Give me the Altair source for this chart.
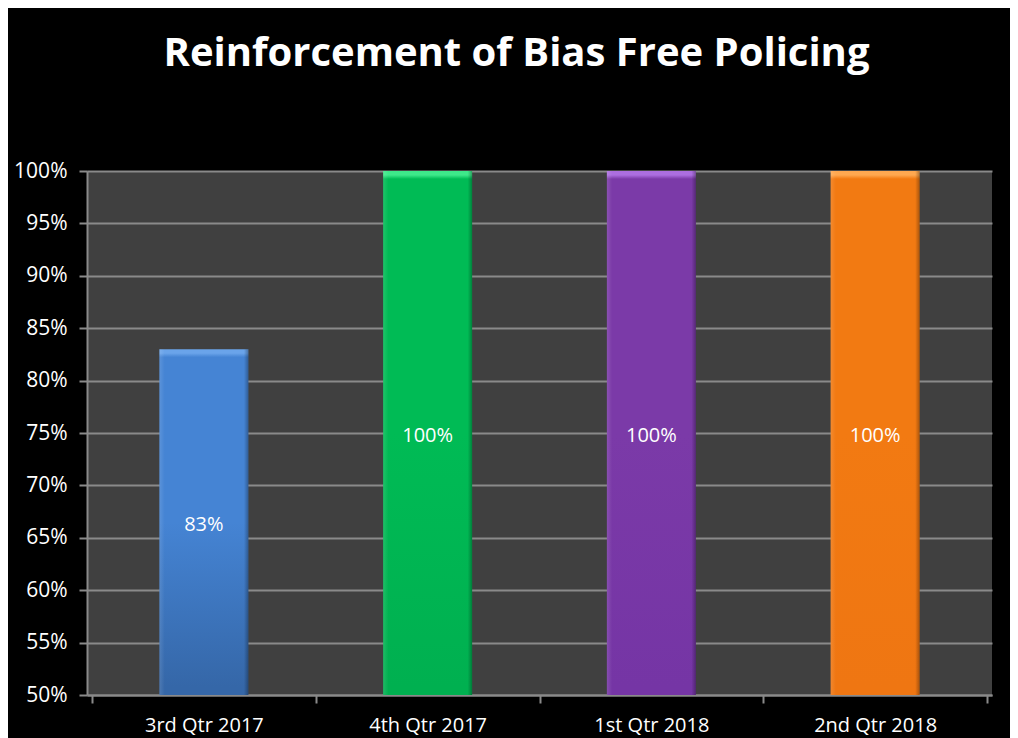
import json
import altair as alt
import pandas as pd

categories = ["3rd Qtr 2017", "4th Qtr 2017", "1st Qtr 2018", "2nd Qtr 2018"]
values = [0.83, 1.00, 1.00, 1.00]
labels = ["83%", "100%", "100%", "100%"]
tops = ["#6aa4ea", "#3ee88a", "#ac6ee0", "#ffa850"]
bases = ["#4584d4", "#00bb55", "#7b3aa8", "#f27a12"]
bottoms = ["#3567a8", "#00b050", "#7535a5", "#ef7612"]
title_text = "Reinforcement of Bias Free Policing"

PLOT_W, PLOT_H = 905, 524
FONT = "Open Sans"
GRID = "#8a8a8a"

df = pd.DataFrame({
    "cat": categories,
    "pos": [i + 0.5 for i in range(len(categories))],
    "value": values,
    "label": labels,
})

label_expr = "datum.value % 1 == 0 ? '' : " + json.dumps(categories) + "[floor(datum.value)]"

x_enc = alt.X(
    "pos:Q",
    scale=alt.Scale(domain=[0, len(categories)], nice=False, zero=False),
    axis=alt.Axis(
        values=[i * 0.5 for i in range(2 * len(categories) + 1)],
        labelExpr=label_expr,
        title=None, grid=False,
        domainColor=GRID, domainWidth=2,
        tickColor=GRID, tickWidth=2, tickSize=8,
        tickOpacity={"condition": {"test": "datum.value % 1 != 0", "value": 0}, "value": 1},
        labelColor="white", labelFont=FONT, labelFontSize=20,
        labelPadding=12, labelBaseline="top", labelFlush=False,
        labelOverlap=False,
    ),
)
y_enc = alt.Y(
    "value:Q",
    scale=alt.Scale(domain=[0.5, 1.0], nice=False, zero=False),
    axis=alt.Axis(
        values=[0.5 + 0.05 * i for i in range(11)],
        format=".0%", title=None,
        grid=True, gridColor=GRID, gridWidth=2,
        domainColor=GRID, domainWidth=2,
        tickColor=GRID, tickWidth=2, tickSize=8,
        labelColor="white", labelFont=FONT, labelFontSize=21,
        labelPadding=12, labelFlush=False,
    ),
)

base = alt.Chart(df)
layers = []
for i, c in enumerate(categories):
    hpx = (values[i] - 0.5) / 0.5 * PLOT_H
    bev = 8.0 / hpx
    grad = alt.Gradient(
        gradient="linear", x1=0, y1=0, x2=0, y2=1,
        stops=[
            alt.GradientStop(color=tops[i], offset=0),
            alt.GradientStop(color=tops[i], offset=bev * 0.5),
            alt.GradientStop(color=bases[i], offset=bev),
            alt.GradientStop(color=bases[i], offset=0.5),
            alt.GradientStop(color=bottoms[i], offset=1 - bev),
            alt.GradientStop(color=bottoms[i], offset=1),
        ],
    )
    shade = alt.Gradient(
        gradient="linear", x1=0, y1=0, x2=1, y2=0,
        stops=[
            alt.GradientStop(color="rgba(255,255,255,0.12)", offset=0),
            alt.GradientStop(color="rgba(255,255,255,0)", offset=0.06),
            alt.GradientStop(color="rgba(0,0,0,0)", offset=0.95),
            alt.GradientStop(color="rgba(0,0,0,0.3)", offset=1),
        ],
    )
    sub = base.transform_filter(alt.datum.cat == c)
    layers.append(sub.mark_bar(size=89, color=grad).encode(x=x_enc, y=y_enc, y2=alt.datum(0.5)))
    layers.append(sub.mark_bar(size=89, color=shade).encode(x="pos:Q", y="value:Q", y2=alt.datum(0.5)))

text = base.transform_calculate(mid="(datum.value + 0.5) / 2").mark_text(
    color="white", font=FONT, fontSize=20, baseline="middle", dy=3
).encode(x="pos:Q", y="mid:Q", text="label:N")
layers.append(text)

chart = alt.layer(*layers).properties(
    width=PLOT_W, height=PLOT_H,
    background="black",
    autosize=alt.AutoSizeParams(type="none"),
    padding={"left": 79, "top": 163, "right": 18, "bottom": 43},
    title=alt.TitleParams(
        title_text, color="white", font=FONT, fontSize=40, fontWeight="bold",
        anchor="middle", frame="group", baseline="alphabetic", offset=54, dx=-23,
    ),
).configure_view(fill="#404040", stroke=None)

chart.save("out.html", embed_options={"renderer": "svg", "actions": False})
